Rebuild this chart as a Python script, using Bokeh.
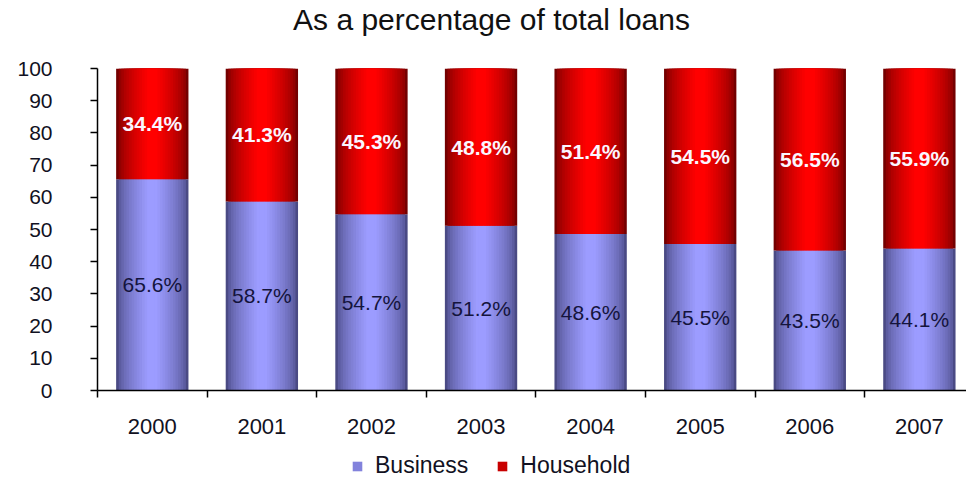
from bokeh.plotting import figure
from bokeh.models import ColumnDataSource, Range1d, FixedTicker, Legend, LegendItem
from bokeh.layouts import column
from bokeh.core.properties import value
from bokeh.embed import file_html
from bokeh.resources import INLINE

years = ["2000", "2001", "2002", "2003", "2004", "2005", "2006", "2007"]
business = [65.6, 58.7, 54.7, 51.2, 48.6, 45.5, 43.5, 44.1]
household = [34.4, 41.3, 45.3, 48.8, 51.4, 54.5, 56.5, 55.9]
y_ticks = [0, 10, 20, 30, 40, 50, 60, 70, 80, 90, 100]
series_names = ["Business", "Household"]
title_text = "As a percentage of total loans"

FONT = "Liberation Sans"
LEFT = 97  # frame left edge (pixels), shared by all stacked figures
x = [i + 0.5 for i in range(len(years))]
src = ColumnDataSource(dict(
    x=x,
    b_top=business,
    h_bottom=business,
    h_top=[b + h for b, h in zip(business, household)],
    b_mid=[b / 2 for b in business],
    h_mid=[b + h / 2 for b, h in zip(business, household)],
    b_lab=[f"{v:.1f}%" for v in business],
    h_lab=[f"{v:.1f}%" for v in household],
))

# ---------- title strip ----------
TH = 40
tf = figure(width=966, height=TH, x_range=Range1d(LEFT, 966), y_range=Range1d(0, TH),
            output_backend="svg", toolbar_location=None, min_border=0,
            min_border_left=LEFT, min_border_right=0)
tf.axis.visible = False
tf.grid.visible = False
tf.outline_line_color = None
tf.text(x=[491], y=[TH / 2 + 1], text=[title_text], text_align="center",
        text_baseline="middle", text_font=value(FONT), text_font_size="30px",
        text_color="#111111")

# ---------- main chart ----------
MAIN_H = 405
p = figure(width=966, height=MAIN_H, x_range=Range1d(0, 7.93), y_range=Range1d(0, 100),
           output_backend="svg", toolbar_location=None,
           min_border_left=LEFT, min_border_right=0, min_border_top=28, min_border_bottom=55)
p.outline_line_color = None
p.grid.visible = False
p.background_fill_color = "white"
p.border_fill_color = "white"

def mix(c1, c2, t):
    return "#%02x%02x%02x" % tuple(int(round(a + (b - a) * t)) for a, b in zip(c1, c2))

BW = 0.66
N = 14
b_edge, b_center = (0x4a, 0x4a, 0x84), (0x9c, 0x9c, 0xff)
h_edge, h_center = (0x74, 0x00, 0x00), (0xff, 0x00, 0x00)
for k in range(N):
    t = k / (N - 1)
    tt = min(1.0, (t ** 0.6) * 1.05)
    w = BW * (1 - k / N)
    p.vbar(x="x", bottom=0, top="b_top", width=w, source=src,
           fill_color=mix(b_edge, b_center, tt), line_color=None)
    p.vbar(x="x", bottom="h_bottom", top="h_top", width=w, source=src,
           fill_color=mix(h_edge, h_center, tt), line_color=None)

p.text(x="x", y="b_mid", text="b_lab", source=src, text_align="center",
       text_baseline="middle", text_font=value(FONT),
       text_font_size="21px", text_color="#14143c")
p.text(x="x", y="h_mid", text="h_lab", source=src, text_align="center",
       text_baseline="middle", text_font=value(FONT), text_font_style="bold",
       text_font_size="21px", text_color="#fbf6ff")

ya = p.yaxis[0]
ya.ticker = FixedTicker(ticks=y_ticks)
ya.major_tick_out = 7
ya.major_tick_in = 0
ya.minor_tick_line_color = None
ya.major_label_standoff = 38
ya.major_label_text_font = FONT
ya.major_label_text_font_size = "21px"
ya.major_label_text_color = "#111122"
ya.axis_line_color = "black"
ya.axis_line_width = 1.5
ya.major_tick_line_width = 1.5

xa = p.xaxis[0]
xa.ticker = FixedTicker(ticks=x, minor_ticks=list(range(len(years))))
xa.major_label_overrides = {xi: y for xi, y in zip(x, years)}
xa.major_tick_line_color = None
xa.major_tick_out = 0
xa.major_tick_in = 0
xa.minor_tick_out = 7
xa.minor_tick_in = 0
xa.minor_tick_line_width = 1.5
xa.axis_line_width = 1.5
xa.axis_line_color = "black"
xa.major_label_standoff = 21
xa.major_label_text_font = FONT
xa.major_label_text_font_size = "22px"
xa.major_label_text_color = "#111122"

# ---------- legend strip ----------
LH = 479 - TH - MAIN_H
lf = figure(width=966, height=LH, x_range=Range1d(0, 1), y_range=Range1d(0, 1),
            output_backend="svg", toolbar_location=None, min_border=0,
            min_border_left=LEFT, min_border_right=0)
lf.axis.visible = False
lf.grid.visible = False
lf.outline_line_color = None
# swatch renderers: one off-screen bar each, only used for the legend glyphs
swatch = ColumnDataSource(dict(x=[5.0], bottom=[10.0], top=[11.0]))
lb = lf.vbar(x="x", bottom="bottom", top="top", width=0.5, source=swatch,
             fill_color="#8282dc", line_color=None)
lh = lf.vbar(x="x", bottom="bottom", top="top", width=0.5, source=swatch,
             fill_color="#c80000", line_color=None)
legend = Legend(items=[LegendItem(label=series_names[0], renderers=[lb]),
                       LegendItem(label=series_names[1], renderers=[lh])],
                orientation="horizontal", location=(351 - LEFT, 0),
                label_text_font=FONT, label_text_font_size="23px",
                label_text_color="#111122", glyph_width=12, glyph_height=12,
                border_line_color=None, background_fill_alpha=0,
                spacing=28, label_standoff=12, padding=2, margin=0)
lf.add_layout(legend, "center")

layout = column(tf, p, lf, spacing=0)
open("out.html", "w").write(file_html(layout, INLINE))
